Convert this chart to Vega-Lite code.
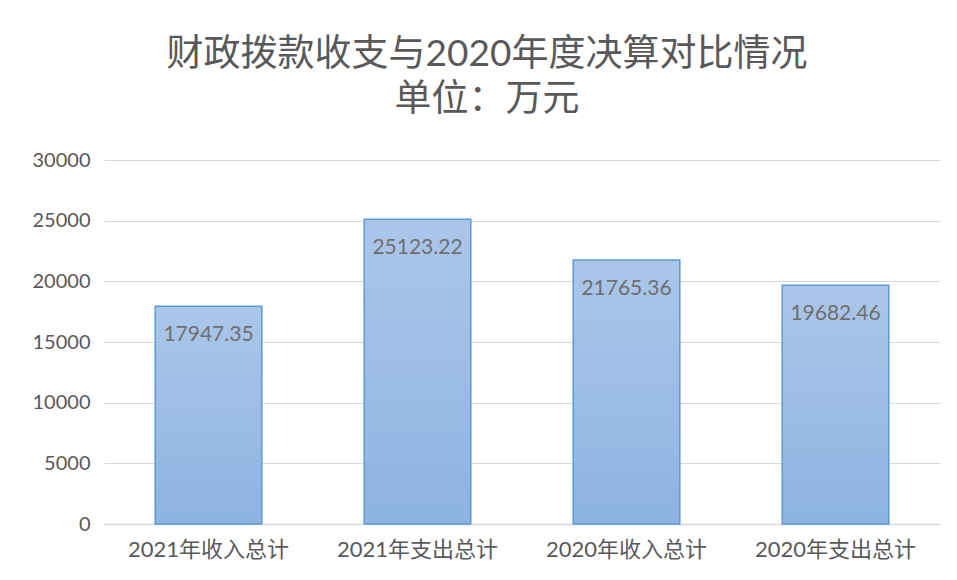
{
  "$schema": "https://vega.github.io/schema/vega-lite/v6.json",
  "width": 836,
  "height": 364,
  "autosize": "none",
  "padding": {"left": 104, "top": 160, "right": 17, "bottom": 56},
  "background": "white",
  "title": {
    "text": ["财政拨款收支与2020年度决算对比情况", "单位：万元"],
    "font": "Lato, Noto Sans CJK SC",
    "fontSize": 37,
    "fontWeight": "normal",
    "color": "#595959",
    "lineHeight": 45,
    "anchor": "middle",
    "dx": -35,
    "offset": 31
  },
  "data": {
    "values": [
      {"category": "2021年收入总计", "value": 17947.35},
      {"category": "2021年支出总计", "value": 25123.22},
      {"category": "2020年收入总计", "value": 21765.36},
      {"category": "2020年支出总计", "value": 19682.46}
    ]
  },
  "encoding": {
    "x": {
      "field": "category",
      "type": "nominal",
      "sort": null,
      "scale": {"paddingInner": 0.49, "paddingOuter": 0.245},
      "axis": {
        "title": null,
        "labelAngle": 0,
        "labelFont": "Lato, Noto Sans CJK SC",
        "labelFontSize": 22,
        "labelColor": "#595959",
        "labelPadding": 15,
        "ticks": false,
        "domainColor": "#d9d9d9",
        "domainWidth": 1.5,
        "grid": false
      }
    },
    "y": {
      "field": "value",
      "type": "quantitative",
      "scale": {"domain": [0, 30000], "nice": false},
      "axis": {
        "title": null,
        "values": [0, 5000, 10000, 15000, 20000, 25000, 30000],
        "format": "d",
        "labelFont": "Lato, Noto Sans CJK SC",
        "labelFontSize": 20,
        "labelColor": "#595959",
        "labelPadding": 14,
        "ticks": false,
        "domain": false,
        "grid": true,
        "gridColor": "#d9d9d9",
        "gridWidth": 1.2
      }
    }
  },
  "layer": [
    {
      "mark": {
        "type": "bar",
        "stroke": "#5b9bd5",
        "strokeWidth": 1.5,
        "color": {
          "gradient": "linear",
          "x1": 0, "y1": 0, "x2": 0, "y2": 1,
          "stops": [
            {"offset": 0, "color": "#abc6e9"},
            {"offset": 1, "color": "#8db3e2"}
          ]
        }
      }
    },
    {
      "mark": {
        "type": "text",
        "baseline": "middle",
        "dy": 29,
        "font": "Lato, Noto Sans CJK SC",
        "fontSize": 21,
        "color": "#6f6f6f"
      },
      "encoding": {
        "text": {"field": "value", "type": "quantitative", "format": ".2f"}
      }
    }
  ],
  "config": {
    "view": {"stroke": null}
  }
}
